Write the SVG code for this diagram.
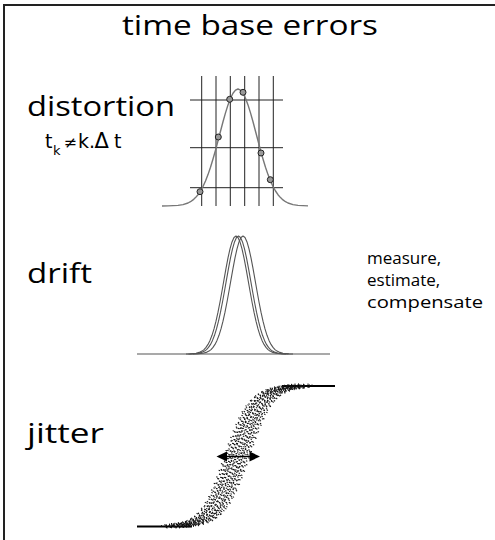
<svg xmlns="http://www.w3.org/2000/svg" xmlns:xlink="http://www.w3.org/1999/xlink" width="495" height="540" viewBox="0 0 495 540">
<style>
.big{font-family:"Open Sans","Liberation Sans",sans-serif;font-size:28px;fill:#000}
.small{font-family:"Open Sans","Liberation Sans",sans-serif;font-size:17px;fill:#000}
.math{font-family:"DejaVu Sans","Liberation Sans",sans-serif;font-size:19px;fill:#000}
.grid{stroke:#222;stroke-width:1;fill:none}
.curve{stroke:#777;stroke-width:1.4;fill:none;stroke-linejoin:round}
.dcurve{stroke:#555;stroke-width:1.1;fill:none;stroke-linejoin:round}
.dot{fill:#999;stroke:#222;stroke-width:1}
.sc{stroke:#111;stroke-width:1.5;fill:none}
</style>
<defs>
<polyline id="g" points="-50,354 -46,353.9 -40,353.3 -36,352.1 -34,351.1 -32,349.6 -30,347.4 -28,344.4 -26,340.4 -24,335.3 -22,328.9 -20,321.2 -18,312.2 -16,302 -14,291 -12,279.6 -10,268.3 -8,257.9 -6,248.8 -4,241.9 -2,237.5 0,236 2,237.5 4,241.9 6,248.8 8,257.9 10,268.3 12,279.6 14,291 16,302 18,312.2 20,321.2 22,328.9 24,335.3 26,340.4 28,344.4 30,347.4 32,349.6 34,351.1 36,352.1 40,353.3 46,353.9 50,354"/>
<polyline id="sig" points="172,525.9 177,525.6 182,525.1 187,524.4 192,523.3 197,521.6 202,519.3 207,515.8 212,510.9 217,504.1 222,495.1 227,483.8 232,470.5 237,456 242,441.5 247,428.2 252,416.9 257,407.9 262,401.1 267,396.2 272,392.7 277,390.4 282,388.7 287,387.6 292,386.9 297,386.4 302,386.1"/>
</defs>
<g id="frame" stroke="#222" stroke-width="2">
<line x1="3" y1="5" x2="495" y2="5"/>
<line x1="4" y1="4" x2="4" y2="540"/>
</g>
<text id="title" class="big" x="122" y="35" font-size="27" textLength="256" lengthAdjust="spacingAndGlyphs">time base errors</text>
<g id="distortion">
<text class="big" x="27" y="116" textLength="148" lengthAdjust="spacingAndGlyphs">distortion</text>
<text class="math" y="148"><tspan x="45">t</tspan><tspan x="53" y="155" font-size="13">k</tspan><tspan x="63.5" y="147.5" font-size="16">≠</tspan><tspan x="78" y="148">k</tspan><tspan x="89">.</tspan><tspan x="94.5" font-size="21">Δ</tspan><tspan x="114">t</tspan></text>
<g class="grid">
<line x1="201.7" y1="76" x2="201.7" y2="206"/>
<line x1="216" y1="76" x2="216" y2="206"/>
<line x1="230.3" y1="76" x2="230.3" y2="206"/>
<line x1="244.7" y1="76" x2="244.7" y2="206"/>
<line x1="259" y1="76" x2="259" y2="206"/>
<line x1="273.3" y1="76" x2="273.3" y2="206"/>
<line x1="190" y1="100" x2="283" y2="100"/>
<line x1="190" y1="147.7" x2="283" y2="147.7"/>
<line x1="190" y1="187.7" x2="283" y2="187.7"/>
</g>
<polyline class="curve" points="162,206 168,205.9 178,205.4 183,204.6 188,203 190.5,201.7 193,199.9 195.5,197.6 198,194.7 200.5,191 203,186.5 205.5,181 208,174.6 210.5,167.2 213,159 215.5,150.2 218,140.8 220.5,131.2 223,121.8 225.5,112.9 228,104.9 230.5,98.2 233,93.2 235.5,90.1 238,89 240.5,90.1 243,93.2 245.5,98.2 248,104.9 250.5,112.9 253,121.8 255.5,131.2 258,140.8 260.5,150.2 263,159 265.5,167.2 268,174.6 270.5,181 273,186.5 275.5,191 278,194.7 280.5,197.6 283,199.9 285.5,201.7 288,203 293,204.6 298,205.4 308,205.9"/>
<circle class="dot" cx="200" cy="191.7" r="3"/>
<circle class="dot" cx="218.3" cy="137" r="3"/>
<circle class="dot" cx="229.7" cy="99.3" r="3"/>
<circle class="dot" cx="243" cy="92.3" r="3"/>
<circle class="dot" cx="261" cy="153" r="3"/>
<circle class="dot" cx="270.3" cy="179.7" r="3"/>
</g>
<g id="drift">
<text class="big" x="27" y="283" textLength="65" lengthAdjust="spacingAndGlyphs">drift</text>
<line class="dcurve" x1="137" y1="354" x2="330" y2="354"/>
<use xlink:href="#g" class="dcurve" transform="translate(236,0)"/>
<use xlink:href="#g" class="dcurve" transform="translate(238.5,0)"/>
<use xlink:href="#g" class="dcurve" transform="translate(243,0)"/>
</g>
<g id="note">
<text class="small" x="367" y="264">measure,</text>
<text class="small" x="367" y="286">estimate,</text>
<text class="small" x="367" y="308" textLength="116" lengthAdjust="spacingAndGlyphs">compensate</text>
</g>
<g id="jitter">
<text class="big" x="27" y="443" textLength="77" lengthAdjust="spacingAndGlyphs">jitter</text>
<g stroke="#000" stroke-width="2">
<line x1="137" y1="526.5" x2="192" y2="526.5"/>
<line x1="282" y1="386" x2="335" y2="386"/>
</g>
<g class="sc">
<use xlink:href="#sig" transform="translate(-13,1)" stroke-dasharray="1 6" stroke-dashoffset="1"/>
<use xlink:href="#sig" transform="translate(-11,0)" stroke-dasharray="1 4" stroke-dashoffset="0"/>
<use xlink:href="#sig" transform="translate(-10,-1)" stroke-dasharray="1 3.5" stroke-dashoffset="2"/>
<use xlink:href="#sig" transform="translate(-9,1.5)" stroke-dasharray="1 3" stroke-dashoffset="1"/>
<use xlink:href="#sig" transform="translate(-8,0)" stroke-dasharray="1 3" stroke-dashoffset="2.5"/>
<use xlink:href="#sig" transform="translate(-7,2)" stroke-dasharray="1 3.5" stroke-dashoffset="3"/>
<use xlink:href="#sig" transform="translate(-6,-1)" stroke-dasharray="1 2.5" stroke-dashoffset="0.5"/>
<use xlink:href="#sig" transform="translate(-5,1)" stroke-dasharray="1 3" stroke-dashoffset="1.5"/>
<use xlink:href="#sig" transform="translate(-4,0)" stroke-dasharray="1 3.5" stroke-dashoffset="4"/>
<use xlink:href="#sig" transform="translate(-3,-2)" stroke-dasharray="1 2.5" stroke-dashoffset="1.5"/>
<use xlink:href="#sig" transform="translate(-2,1)" stroke-dasharray="1 3" stroke-dashoffset="0"/>
<use xlink:href="#sig" transform="translate(-1,0)" stroke-dasharray="1 3.5" stroke-dashoffset="3"/>
<use xlink:href="#sig" transform="translate(0,-1)" stroke-dasharray="1 2.5" stroke-dashoffset="2"/>
<use xlink:href="#sig" transform="translate(1,1)" stroke-dasharray="1 3" stroke-dashoffset="1"/>
<use xlink:href="#sig" transform="translate(2,0)" stroke-dasharray="1 3.5" stroke-dashoffset="0.5"/>
<use xlink:href="#sig" transform="translate(3,2)" stroke-dasharray="1 2.5" stroke-dashoffset="3"/>
<use xlink:href="#sig" transform="translate(4,-1)" stroke-dasharray="1 3" stroke-dashoffset="1"/>
<use xlink:href="#sig" transform="translate(5,1)" stroke-dasharray="1 3.5" stroke-dashoffset="2"/>
<use xlink:href="#sig" transform="translate(6,0)" stroke-dasharray="1 3" stroke-dashoffset="0"/>
<use xlink:href="#sig" transform="translate(7,-2)" stroke-dasharray="1 3.5" stroke-dashoffset="3.5"/>
<use xlink:href="#sig" transform="translate(8,1)" stroke-dasharray="1 3" stroke-dashoffset="1"/>
<use xlink:href="#sig" transform="translate(9,-1)" stroke-dasharray="1 4" stroke-dashoffset="2.5"/>
<use xlink:href="#sig" transform="translate(10,0)" stroke-dasharray="1 3.5" stroke-dashoffset="2"/>
<use xlink:href="#sig" transform="translate(11,1)" stroke-dasharray="1 4" stroke-dashoffset="0"/>
<use xlink:href="#sig" transform="translate(13,-1)" stroke-dasharray="1 6" stroke-dashoffset="4"/>
</g>
<g id="arrow">
<line x1="224" y1="456.5" x2="252" y2="456.5" stroke="#000" stroke-width="1.5"/>
<polygon points="216.5,456.5 227,451.5 227,461.5" fill="#000"/>
<polygon points="260,456.5 249.5,451.5 249.5,461.5" fill="#000"/>
</g>
</g>
</svg>
